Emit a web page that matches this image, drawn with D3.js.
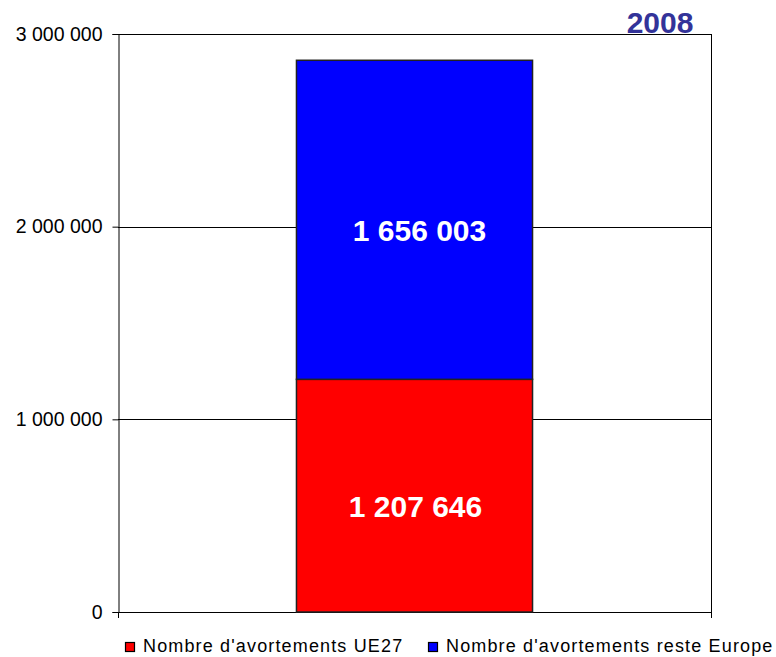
<!DOCTYPE html>
<html>
<head>
<meta charset="utf-8">
<style>
    body { margin: 0; background: #fff; }
    svg { font-family: "Liberation Sans", Arial, sans-serif; }
</style>
</head>
<body>
<svg width="776" height="657"></svg>
<script src="https://d3js.org/d3.v7.min.js"></script>
<script>
    // data
    let categories = ["2008"];
    let seriesNames = ["Nombre d'avortements UE27", "Nombre d'avortements reste Europe"];
    let seriesColors = ["#ff0000", "#0000ff"];
    let ue27 = [1207646];
    let resteEurope = [1656003];
    let yTicks = [0, 1000000, 2000000, 3000000];

    let svg = d3.select("svg");
    let margin = { top: 34, right: 65, bottom: 45, left: 118 };
    let width = 776, height = 657;

    let x = d3.scaleBand()
        .domain(categories)
        .range([margin.left, width - margin.right])
        .paddingInner(0)
        .paddingOuter(0.756);

    let y = d3.scaleLinear()
        .domain([0, 3000000])
        .range([height - margin.bottom, margin.top]);

    let fmt = d => d3.format(",")(d).replace(/,/g, " ");

    // grid lines
    svg.append("g")
        .selectAll("line")
        .data(yTicks)
        .join("line")
        .attr("x1", margin.left)
        .attr("x2", width - margin.right)
        .attr("y1", d => Math.round(y(d)) + 0.5)
        .attr("y2", d => Math.round(y(d)) + 0.5)
        .style("stroke", "#000")
        .style("stroke-width", 1);

    // right border
    svg.append("line")
        .attr("x1", width - margin.right + 0.5)
        .attr("x2", width - margin.right + 0.5)
        .attr("y1", margin.top)
        .attr("y2", y(0) + 6)
        .style("stroke", "#000");

    // stacked data
    let stackData = categories.map((c, i) => ({ cat: c, s0: ue27[i], s1: resteEurope[i] }));
    let stack = d3.stack().keys(["s0", "s1"])(stackData);

    svg.append("g")
        .selectAll("g")
        .data(stack)
        .join("g")
        .style("fill", (d, i) => seriesColors[i])
        .selectAll("rect")
        .data(d => d)
        .join("rect")
        .attr("x", d => x(d.data.cat))
        .attr("width", x.bandwidth())
        .attr("y", d => y(d[1]))
        .attr("height", d => y(d[0]) - y(d[1]))
        .style("stroke", "#222")
        .style("stroke-width", 1.5);

    // value labels
    svg.append("g")
        .selectAll("text")
        .data(stack)
        .join("text")
        .attr("x", (d, i) => x(categories[0]) + x.bandwidth() / 2 + (i == 1 ? 5 : 1))
        .attr("y", d => (y(d[0][0]) + y(d[0][1])) / 2 + 21)
        .attr("text-anchor", "middle")
        .style("fill", "#fff")
        .style("font-size", "30px")
        .style("font-weight", "bold")
        .text(d => fmt(d[0][1] - d[0][0]));

    // y axis
    let yAxis = svg.append("g")
        .attr("class", "y axis")
        .attr("transform", `translate(${margin.left + 0.5},0)`)
        .call(d3.axisLeft(y).tickValues(yTicks).tickSize(6).tickPadding(10).tickFormat(fmt));
    yAxis.selectAll(".tick line").style("stroke", "#000");
    yAxis.selectAll(".tick text")
        .style("font-size", "19.5px")
        .style("font-family", "'Liberation Sans', Arial, sans-serif")
        .style("fill", "#000");
    yAxis.select(".domain").style("stroke", "#000");

    // x axis ticks (category boundaries)
    svg.append("g")
        .selectAll("line")
        .data([margin.left, width - margin.right])
        .join("line")
        .attr("x1", d => d + 0.5)
        .attr("x2", d => d + 0.5)
        .attr("y1", y(0))
        .attr("y2", y(0) + 6)
        .style("stroke", "#000");

    // title
    svg.append("text")
        .attr("x", 660)
        .attr("y", 33)
        .attr("text-anchor", "middle")
        .style("font-size", "30px")
        .style("font-weight", "bold")
        .style("fill", "#333399")
        .text(categories[0]);

    // legend
    let legendX = [125, 428];
    let legend = svg.append("g")
        .selectAll("g")
        .data(seriesNames)
        .join("g")
        .attr("transform", (d, i) => `translate(${legendX[i]},642)`);

    legend.append("rect")
        .attr("x", 0.5)
        .attr("y", 0.5)
        .attr("width", 9)
        .attr("height", 9)
        .style("fill", (d, i) => seriesColors[i])
        .style("stroke", "#000")
        .style("stroke-width", 1.2);

    legend.append("text")
        .attr("x", 18)
        .attr("y", 10)
        .style("font-size", "18px")
        .style("letter-spacing", "1.15px")
        .style("fill", "#000")
        .text(d => d);
</script>
</body>
</html>
